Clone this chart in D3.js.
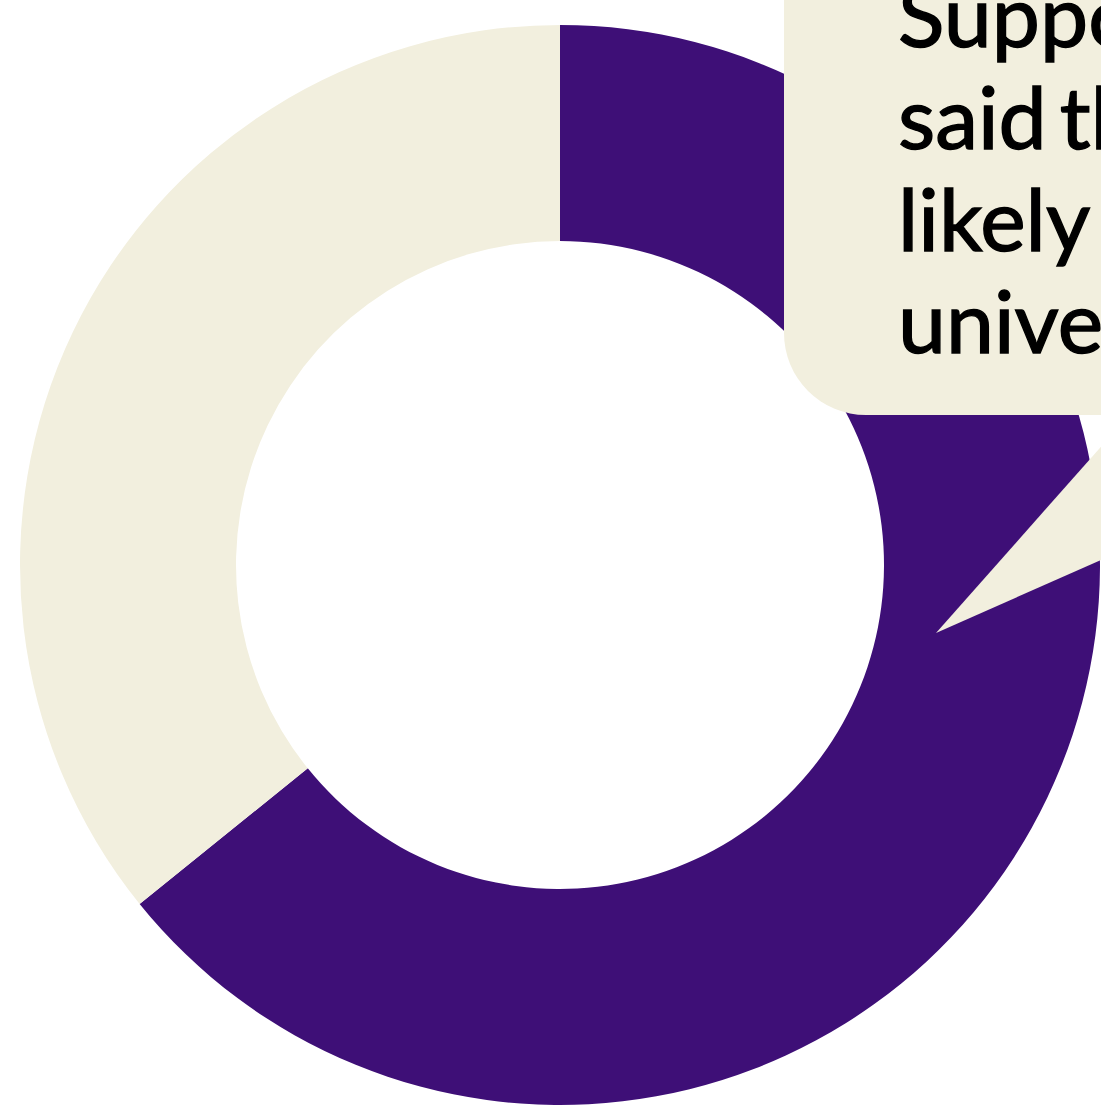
<!DOCTYPE html>
<html>
<head>
<meta charset="utf-8">
<script src="https://cdn.jsdelivr.net/npm/d3@7"></script>
<style>
  html, body { margin: 0; padding: 0; background: #fff; overflow: hidden; }
  #chart { width: 1101px; height: 1108px; }
</style>
</head>
<body>
<div id="chart"></div>
<script>
// share of respondents
const categories = ['Likely', 'Not likely'];
const values = [64.2, 35.8];
const colors = ['#3e0f77', '#f2efde'];
const calloutLines = ['Supporters', 'said they were', 'likely to go to', 'university'];

const config = {
    width: 1101,
    height: 1108,
    cx: 560,
    cy: 565,
    outerRadius: 540,
    innerRadius: 324,
};

const svg = d3.select('#chart')
    .append('svg')
        .attr('width', config.width)
        .attr('height', config.height);

const pie = d3.pie()
    .sort(null)
    .value(d => d);

const arc = d3.arc()
    .innerRadius(config.innerRadius)
    .outerRadius(config.outerRadius);

svg.append('g')
    .attr('transform', `translate(${config.cx}, ${config.cy})`)
    .selectAll('path')
    .data(pie(values))
    .enter()
    .append('path')
        .attr('fill', (d, i) => colors[i])
        .attr('d', arc)
    .append('title')
        .text((d, i) => `${categories[i]}: ${d.data}%`);

// callout box with pointer
const callout = svg.append('g');

callout.append('path')
    .attr('fill', '#f2efde')
    .attr('d', 'M936,633 L1129,415 L1200,415 L1200,516 Z');

callout.append('rect')
    .attr('x', 784)
    .attr('y', -200)
    .attr('width', 600)
    .attr('height', 615)
    .attr('rx', 82)
    .attr('ry', 82)
    .attr('fill', '#f2efde');

callout.append('text')
    .attr('font-family', 'Lato, sans-serif')
    .attr('font-size', 86)
    .attr('fill', '#000')
    .attr('stroke', '#000')
    .attr('stroke-width', 1.4)
    .attr('word-spacing', -9)
    .selectAll('tspan')
    .data(calloutLines)
    .enter()
    .append('tspan')
        .attr('x', 898)
        .attr('y', (d, i) => 47 + i * 102)
        .text(d => d);
</script>
</body>
</html>
